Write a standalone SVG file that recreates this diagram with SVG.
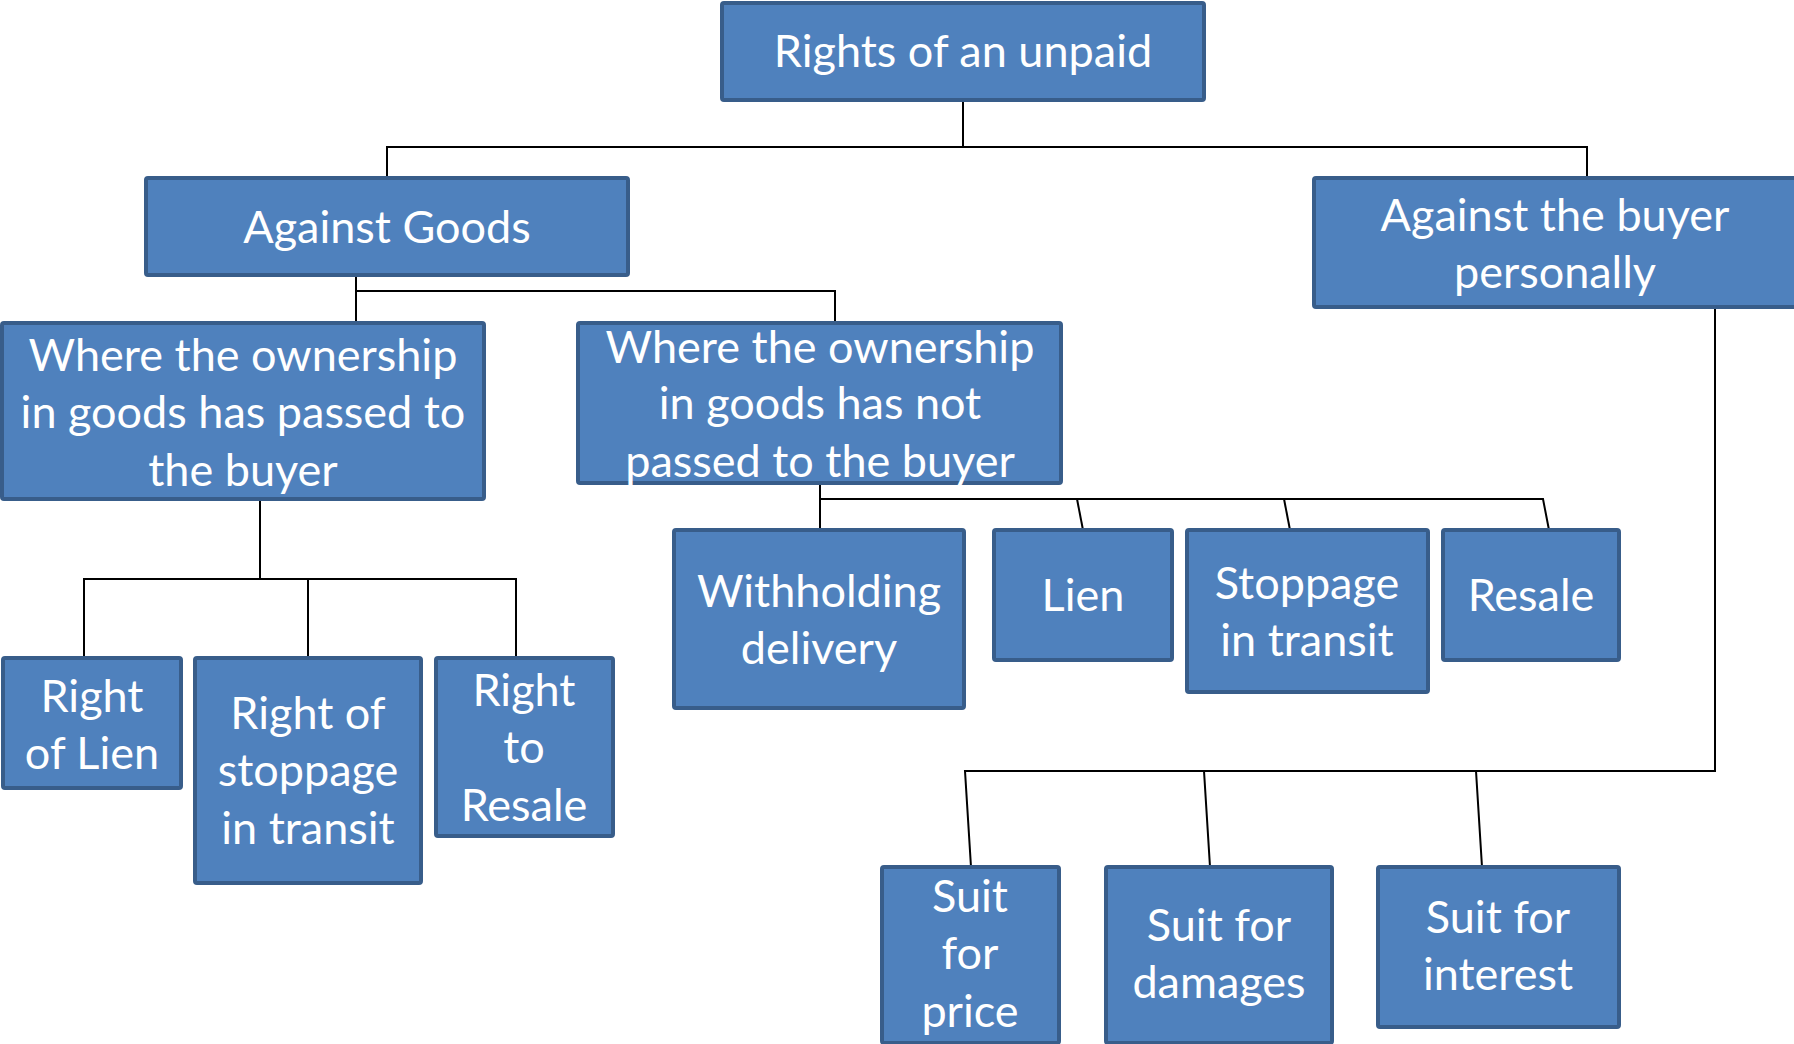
<svg xmlns="http://www.w3.org/2000/svg" width="1794" height="1044" viewBox="0 0 1794 1044">
<style>
.box{fill:#4F81BD;stroke:#385D8A;stroke-width:4;}
.t{font-family:Lato,"Liberation Sans",sans-serif;font-size:45px;fill:#FFFFFF;text-anchor:middle;}
.c{fill:none;stroke:#000000;stroke-width:2;}
</style>
<rect width="1794" height="1044" fill="#FFFFFF"/>
<g id="connectors">
<polyline class="c" points="963,100 963,147"/>
<polyline class="c" points="387,177 387,147 1587,147 1587,177"/>
<polyline class="c" points="356,275 356,323"/>
<polyline class="c" points="356,291 835,291 835,323"/>
<polyline class="c" points="260,499 260,579"/>
<polyline class="c" points="84,657 84,579 516,579 516,657"/>
<polyline class="c" points="308,579 308,657"/>
<polyline class="c" points="820,483 820,530"/>
<polyline class="c" points="820,499 1543,499 1549,530"/>
<polyline class="c" points="1077,499 1083,530"/>
<polyline class="c" points="1284,499 1290,530"/>
<polyline class="c" points="1715,307 1715,771 965,771 971,867"/>
<polyline class="c" points="1204,771 1210,867"/>
<polyline class="c" points="1476,771 1482,867"/>
</g>
<g id="n-root"><rect class="box" x="722" y="3" width="482" height="97" rx="2"/><text class="t" x="963" y="67">Rights of an unpaid</text></g>
<g id="n-goods"><rect class="box" x="146" y="178" width="482" height="97" rx="2"/><text class="t" x="387" y="243">Against Goods</text></g>
<g id="n-buyer"><rect class="box" x="1314" y="178" width="482" height="129" rx="2"/><text class="t" x="1555" y="231">Against the buyer</text><text class="t" x="1555" y="288">personally</text></g>
<g id="n-passed"><rect class="box" x="2" y="323" width="482" height="176" rx="2"/><text class="t" x="243" y="371">Where the ownership</text><text class="t" x="243" y="428">in goods has passed to</text><text class="t" x="243" y="486">the buyer</text></g>
<g id="n-notpassed"><rect class="box" x="578" y="323" width="483" height="160" rx="2"/><text class="t" x="820" y="363">Where the ownership</text><text class="t" x="820" y="419">in goods has not</text><text class="t" x="820" y="477">passed to the buyer</text></g>
<g id="n-rlien"><rect class="box" x="3" y="658" width="178" height="130" rx="2"/><text class="t" x="92" y="712">Right</text><text class="t" x="92" y="769">of Lien</text></g>
<g id="n-rstop"><rect class="box" x="195" y="658" width="226" height="225" rx="2"/><text class="t" x="308" y="729">Right of</text><text class="t" x="308" y="786">stoppage</text><text class="t" x="308" y="844">in transit</text></g>
<g id="n-rresale"><rect class="box" x="436" y="658" width="177" height="178" rx="2"/><text class="t" x="524" y="706">Right</text><text class="t" x="524" y="763">to</text><text class="t" x="524" y="821">Resale</text></g>
<g id="n-withhold"><rect class="box" x="674" y="530" width="290" height="178" rx="2"/><text class="t" x="819" y="607">Withholding</text><text class="t" x="819" y="664">delivery</text></g>
<g id="n-lien"><rect class="box" x="994" y="530" width="178" height="130" rx="2"/><text class="t" x="1083" y="611">Lien</text></g>
<g id="n-stop"><rect class="box" x="1187" y="530" width="241" height="162" rx="2"/><text class="t" x="1307" y="599">Stoppage</text><text class="t" x="1307" y="656">in transit</text></g>
<g id="n-resale"><rect class="box" x="1443" y="530" width="176" height="130" rx="2"/><text class="t" x="1531" y="611">Resale</text></g>
<g id="n-price"><rect class="box" x="882" y="867" width="177" height="176" rx="2"/><text class="t" x="970" y="912">Suit</text><text class="t" x="970" y="969">for</text><text class="t" x="970" y="1027">price</text></g>
<g id="n-damages"><rect class="box" x="1106" y="867" width="226" height="176" rx="2"/><text class="t" x="1219" y="941">Suit for</text><text class="t" x="1219" y="998">damages</text></g>
<g id="n-interest"><rect class="box" x="1378" y="867" width="241" height="160" rx="2"/><text class="t" x="1498" y="933">Suit for</text><text class="t" x="1498" y="990">interest</text></g>
</svg>
